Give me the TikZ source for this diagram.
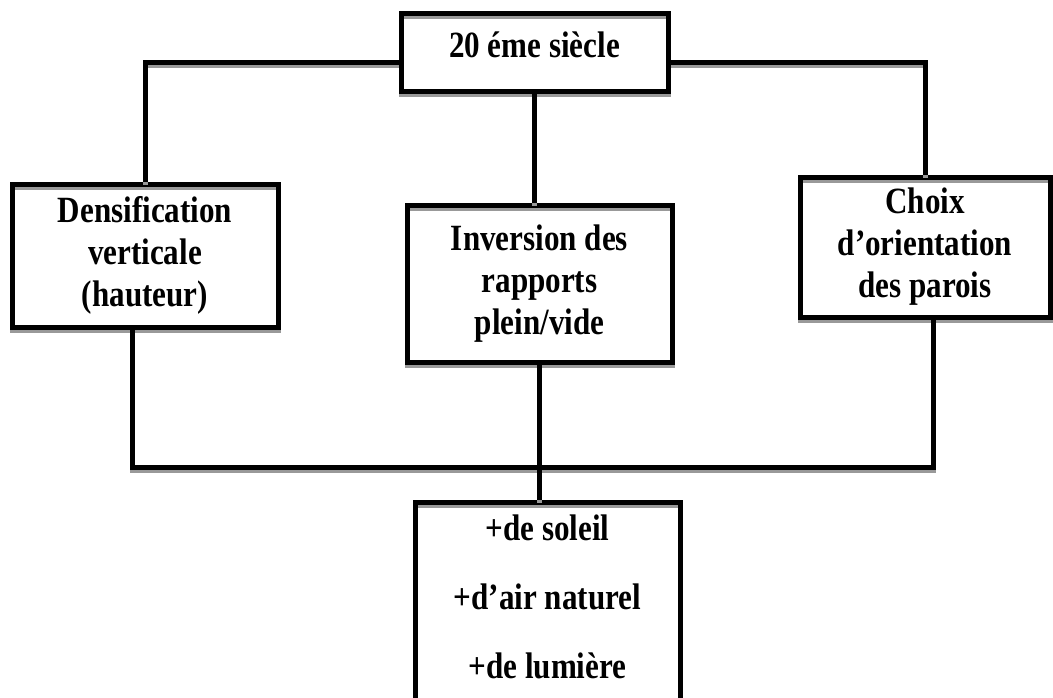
\documentclass[tikz,border=0pt]{standalone}
\usepackage{fontspec}
\setmainfont[FakeStretch=0.84]{Liberation Serif}
\usetikzlibrary{shadows}
\tikzset{
    ombre/.style={general shadow={shadow yshift=-3pt, draw=black!40, fill=none, line width=5pt}},
    boite/.style={draw, line width=5pt, ombre, align=center, inner sep=0pt, font=\bfseries\fontsize{37}{42}\selectfont},
    lien/.style={line width=5pt, ombre},
}
\begin{document}
\begin{tikzpicture}[x=1pt,y=-1pt]
            \useasboundingbox (0,0) rectangle (1053,697);
            \clip (0,0) rectangle (1053,697);
            \node[boite, minimum width=267pt, minimum height=78pt, text depth=14pt] (siecle) at (534.5,52) {20 éme siècle};
            \node[boite, minimum width=266pt, minimum height=143pt] (dens) at (145,255.5) {Densification\\verticale\\(hauteur)};
            \node[boite, minimum width=265pt, minimum height=157pt] (inv) at (539.5,283.5) {Inversion des\\rapports\\plein/vide};
            \node[boite, minimum width=250pt, minimum height=140pt] (choix) at (925,247) {Choix\\d’orientation\\des parois};
            \node[boite, minimum width=265pt, minimum height=240pt, anchor=north] (res) at (547.5,500) {};
            \node[anchor=north, align=center, inner sep=0pt, font=\bfseries\fontsize{37}{69}\selectfont] (restxt) at ([yshift=-15pt]res.north) {+de soleil\\+d’air naturel\\+de lumière};
            \coordinate (busg) at (132,467);
            \coordinate (busd) at (933,467);
            \draw[lien] ([yshift=-10pt]siecle.west) -| (dens.north);
            \draw[lien] ([yshift=-10pt]siecle.east) -| (choix.north);
            \draw[lien] (siecle.south) -- (siecle.south |- inv.north);
            \draw[lien] (busg |- dens.south) -- (busg) -- (busd) -- (busd |- choix.south);
            \draw[lien] (inv.south) -- (inv.south |- res.north);
        \end{tikzpicture}
\end{document}
